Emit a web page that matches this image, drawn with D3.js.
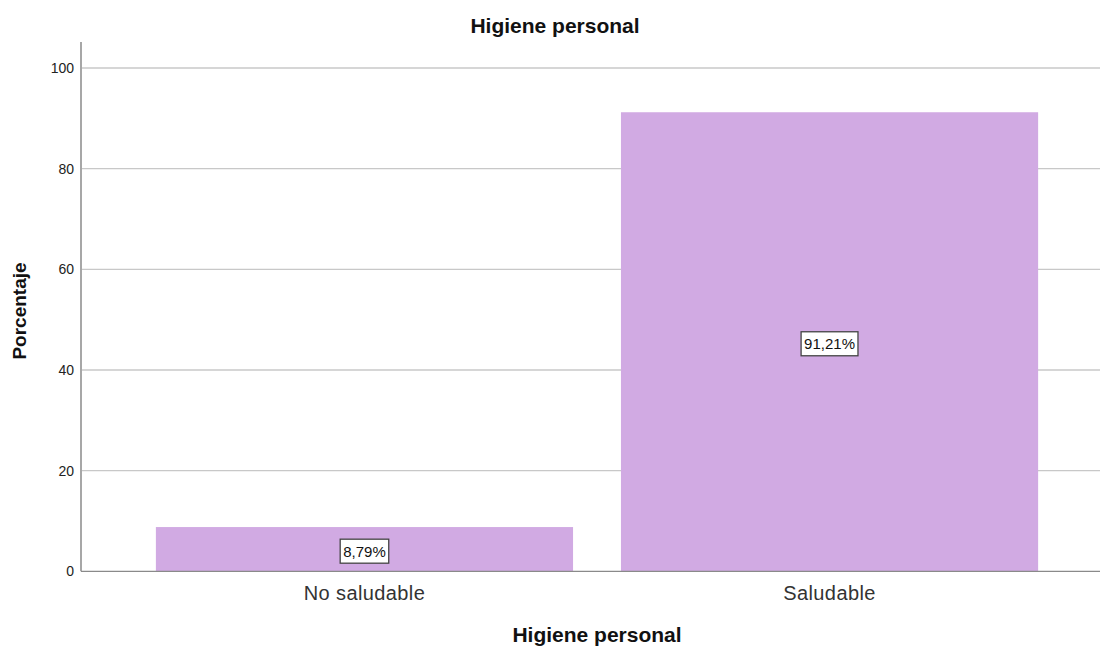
<!DOCTYPE html>
<html><head><meta charset="utf-8">
<script src="https://cdn.jsdelivr.net/npm/d3@7"></script>
<style>body{margin:0;background:#fff;}svg{display:block;font-family:"Liberation Sans",Arial,sans-serif;}</style>
</head><body>
<svg id="c" width="1100" height="648"></svg>
<script>
const categories = ["No saludable", "Saludable"];
const values = [8.79, 91.21];
const labels = ["8,79%", "91,21%"];
const yTicks = [0, 20, 40, 60, 80, 100];
const chartTitle = "Higiene personal";
const xTitle = "Higiene personal";
const yTitle = "Porcentaje";

const svg = d3.select("#c");
const mLeft = 81, mRight = 1113, mTop = 42;
const y = d3.scaleLinear().domain([0, 100]).range([571.3, 68]);
const x = d3.scaleBand().domain(categories).range([mLeft, mRight]).paddingInner(0.103).paddingOuter(0.161);

// gridlines
svg.append("g").selectAll("line").data(yTicks.filter(d => d > 0)).join("line")
  .attr("x1", mLeft + 1).attr("x2", 1100)
  .attr("y1", d => y(d)).attr("y2", d => y(d))
  .attr("stroke", "#c8c8c8").attr("stroke-width", 1.3);

// bars
svg.append("g").selectAll("rect").data(values).join("rect")
  .attr("x", (d, i) => x(categories[i]))
  .attr("width", x.bandwidth())
  .attr("y", d => y(d))
  .attr("height", d => y(0) - y(d))
  .attr("fill", "#d1aae3");

// axes lines
svg.append("line").attr("x1", mLeft).attr("x2", mLeft).attr("y1", mTop).attr("y2", y(0))
  .attr("stroke", "#8a8a8a").attr("stroke-width", 1.5);
svg.append("line").attr("x1", mLeft).attr("x2", 1100).attr("y1", y(0)).attr("y2", y(0))
  .attr("stroke", "#8a8a8a").attr("stroke-width", 1.3);

// y tick labels
svg.append("g").selectAll("text").data(yTicks).join("text")
  .attr("x", mLeft - 7).attr("y", d => y(d)).attr("dy", "0.35em")
  .attr("text-anchor", "end").attr("font-size", 14).attr("fill", "#222")
  .text(d => d);

// x tick labels
svg.append("g").selectAll("text").data(categories).join("text")
  .attr("x", d => x(d) + x.bandwidth() / 2).attr("y", 600)
  .attr("text-anchor", "middle").attr("font-size", 20).attr("letter-spacing", 0.4).attr("fill", "#333")
  .text(d => d);

// value labels
const lg = svg.append("g").selectAll("g").data(values).join("g")
  .attr("transform", (d, i) => `translate(${x(categories[i]) + x.bandwidth() / 2},${(y(d) + y(0)) / 2 + 2})`);
lg.append("text").attr("text-anchor", "middle").attr("dy", "0.36em")
  .attr("font-size", 15).attr("fill", "#111")
  .text((d, i) => labels[i]);
lg.each(function () {
  const g = d3.select(this);
  const bb = g.select("text").node().getBBox();
  g.insert("rect", "text").attr("x", bb.x - 3).attr("y", -12).attr("width", bb.width + 6).attr("height", 24)
    .attr("fill", "#fff").attr("stroke", "#444").attr("stroke-width", 1.3);
});

// titles
svg.append("text").attr("x", 555).attr("y", 33).attr("text-anchor", "middle")
  .attr("font-size", 21).attr("font-weight", "bold").attr("fill", "#111").text(chartTitle);
svg.append("text").attr("x", 597).attr("y", 642).attr("text-anchor", "middle")
  .attr("font-size", 21).attr("font-weight", "bold").attr("fill", "#111").text(xTitle);
svg.append("text").attr("transform", "translate(26,311) rotate(-90)").attr("text-anchor", "middle")
  .attr("font-size", 19).attr("font-weight", "bold").attr("fill", "#111").text(yTitle);
</script>
</body></html>
